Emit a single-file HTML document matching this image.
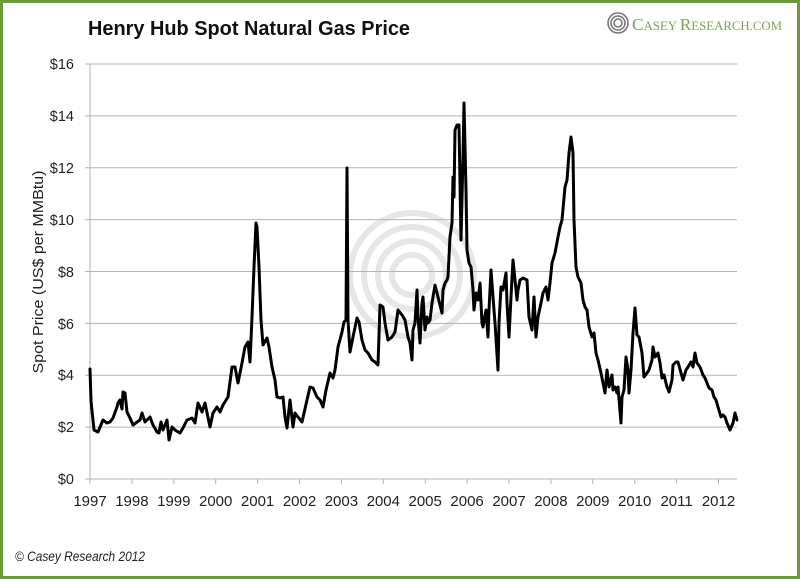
<!DOCTYPE html>
<html><head><meta charset="utf-8">
<style>
html,body{margin:0;padding:0;background:#fff;}
svg{display:block;}
</style></head>
<body>
<svg width="800" height="579" viewBox="0 0 800 579" xmlns="http://www.w3.org/2000/svg">
<rect x="0" y="0" width="800" height="579" fill="#fff"/>
<rect x="1.5" y="1.5" width="797" height="576" fill="none" stroke="#6c9b3c" stroke-width="3"/>

<!-- watermark -->
<g fill="none" stroke="#e6e6e6" stroke-width="6">
<circle cx="412" cy="275" r="62"/>
<circle cx="412" cy="275" r="48"/>
<circle cx="412" cy="275" r="34"/>
<circle cx="412" cy="275" r="20"/>
</g>

<!-- title -->
<text x="88" y="35" font-family="Liberation Sans, Arial, sans-serif" font-weight="bold" font-size="20" fill="#111" textLength="322" lengthAdjust="spacingAndGlyphs">Henry Hub Spot Natural Gas Price</text>

<!-- logo -->
<g fill="none" stroke="#777" stroke-width="1.6">
<circle cx="618" cy="23" r="10"/>
<circle cx="618" cy="23" r="7"/>
<circle cx="618" cy="23" r="4"/>
</g>
<text x="632" y="30" font-family="Liberation Serif, serif" fill="#7aa35a" textLength="150" lengthAdjust="spacingAndGlyphs"><tspan font-size="17">C</tspan><tspan font-size="12.5">ASEY </tspan><tspan font-size="17">R</tspan><tspan font-size="12.5">ESEARCH.COM</tspan></text>

<!-- gridlines -->
<g stroke="#b3b3b3" stroke-width="1">
<line x1="85" y1="64" x2="737" y2="64"/>
<line x1="85" y1="115.9" x2="737" y2="115.9"/>
<line x1="85" y1="167.75" x2="737" y2="167.75"/>
<line x1="85" y1="219.6" x2="737" y2="219.6"/>
<line x1="85" y1="271.5" x2="737" y2="271.5"/>
<line x1="85" y1="323.4" x2="737" y2="323.4"/>
<line x1="85" y1="375.25" x2="737" y2="375.25"/>
<line x1="85" y1="427.1" x2="737" y2="427.1"/>
<line x1="85" y1="479" x2="737" y2="479"/>
<line x1="90" y1="64" x2="90" y2="484"/>
<line x1="131.9" y1="479" x2="131.9" y2="484"/>
<line x1="173.8" y1="479" x2="173.8" y2="484"/>
<line x1="215.7" y1="479" x2="215.7" y2="484"/>
<line x1="257.6" y1="479" x2="257.6" y2="484"/>
<line x1="299.5" y1="479" x2="299.5" y2="484"/>
<line x1="341.4" y1="479" x2="341.4" y2="484"/>
<line x1="383.3" y1="479" x2="383.3" y2="484"/>
<line x1="425.2" y1="479" x2="425.2" y2="484"/>
<line x1="467.1" y1="479" x2="467.1" y2="484"/>
<line x1="509" y1="479" x2="509" y2="484"/>
<line x1="550.9" y1="479" x2="550.9" y2="484"/>
<line x1="592.8" y1="479" x2="592.8" y2="484"/>
<line x1="634.7" y1="479" x2="634.7" y2="484"/>
<line x1="676.6" y1="479" x2="676.6" y2="484"/>
<line x1="718.5" y1="479" x2="718.5" y2="484"/>
</g>

<!-- y labels -->
<g font-family="Liberation Sans, Arial, sans-serif" font-size="14.5" fill="#222" text-anchor="end">
<text x="74" y="69">$16</text>
<text x="74" y="121">$14</text>
<text x="74" y="173">$12</text>
<text x="74" y="225">$10</text>
<text x="74" y="277">$8</text>
<text x="74" y="329">$6</text>
<text x="74" y="380">$4</text>
<text x="74" y="432">$2</text>
<text x="74" y="484">$0</text>
</g>

<!-- x labels -->
<g font-family="Liberation Sans, Arial, sans-serif" font-size="15" fill="#222" text-anchor="middle">
<text x="90" y="506">1997</text>
<text x="131.9" y="506">1998</text>
<text x="173.8" y="506">1999</text>
<text x="215.7" y="506">2000</text>
<text x="257.6" y="506">2001</text>
<text x="299.5" y="506">2002</text>
<text x="341.4" y="506">2003</text>
<text x="383.3" y="506">2004</text>
<text x="425.2" y="506">2005</text>
<text x="467.1" y="506">2006</text>
<text x="509" y="506">2007</text>
<text x="550.9" y="506">2008</text>
<text x="592.8" y="506">2009</text>
<text x="634.7" y="506">2010</text>
<text x="676.6" y="506">2011</text>
<text x="718.5" y="506">2012</text>
</g>

<!-- y axis title -->
<text transform="translate(43,272) rotate(-90)" text-anchor="middle" font-family="Liberation Sans, Arial, sans-serif" font-size="15" fill="#222" textLength="203" lengthAdjust="spacingAndGlyphs">Spot Price (US$ per MMBtu)</text>

<!-- series -->
<polyline fill="none" stroke="#000" stroke-width="3" stroke-linejoin="round" stroke-linecap="round" points="90,369 91,401 94,430 98,432 103,420 107,423 110,422 113,418 117,407 118,403 120,400 122,409 123,392 125,393 127,412 130,418 133,425 137,422 140,420 142,413 145,422 150,417 153,425 157,432 159,433 161,422 163,430 167,420 169,440 172,427 175,430 180,433 183,428 187,420 192,418 195,423 198,403 202,412 205,403 210,427 213,413 217,407 220,412 223,405 228,397 232,367 235,367 238,383 242,363 245,347 248,342 250,362 252,317 254,267 256,223 257,227 259,267 261,320 263,345 267,338 269,347 272,367 275,380 277,397 280,398 283,397 285,417 287,428 290,400 293,427 295,413 298,417 302,422 307,400 310,387 313,388 317,397 320,400 323,407 326,390 330,373 333,378 335,370 338,347 342,332 344,322 346,320 347,168 348,320 350,352 353,337 357,318 359,322 362,340 365,350 368,353 372,360 375,362 378,365 380,305 383,307 385,323 388,340 392,337 395,332 398,310 402,315 405,320 408,337 410,343 412,360 413,330 415,323 417,290 418,317 420,343 422,303 423,297 425,330 427,317 428,323 430,320 432,303 435,285 438,297 442,313 443,290 445,283 447,280 448,277 450,237 452,223 453,177 454,197 455,130 457,125 459,125 461,240 463,157 464,103 466,190 467,250 469,263 471,267 473,290 474,310 476,293 478,300 480,283 482,323 483,327 486,310 488,337 489,310 491,270 493,297 495,323 498,370 499,323 501,287 503,290 506,273 507,303 509,337 511,297 513,260 514,270 517,300 518,290 520,280 523,278 527,280 529,317 532,330 534,297 536,337 538,317 541,303 543,293 546,287 548,300 550,283 552,263 555,253 558,237 560,227 562,220 565,187 567,180 569,153 571,137 573,153 574,220 576,267 578,277 581,283 583,300 585,307 587,310 589,327 592,337 594,333 596,353 598,360 601,373 603,383 605,393 607,370 609,387 612,375 613,390 615,387 617,393 618,387 621,423 622,397 624,390 626,357 628,370 629,393 631,370 633,333 635,308 637,335 639,337 642,353 644,377 647,373 649,370 652,360 653,347 655,357 658,353 660,363 662,378 664,375 667,387 669,392 672,380 673,365 676,362 678,362 681,373 683,380 686,370 688,367 691,362 693,367 695,353 697,363 700,367 703,375 705,378 707,383 709,388 712,390 714,397 716,400 718,407 721,417 723,415 725,417 727,423 730,430 733,423 735,413 737,420"/>

<!-- copyright -->
<text x="15" y="561" font-family="Liberation Sans, Arial, sans-serif" font-style="italic" font-size="14" fill="#222" textLength="130" lengthAdjust="spacingAndGlyphs">© Casey Research 2012</text>
</svg>
</body></html>
